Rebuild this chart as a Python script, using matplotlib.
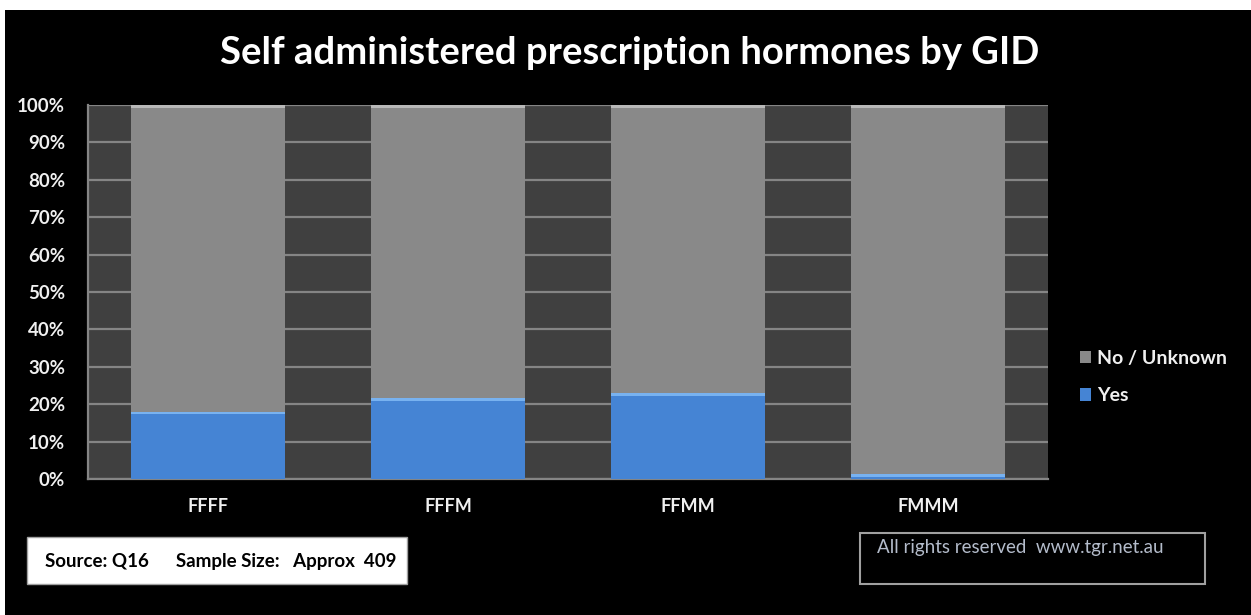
import matplotlib
matplotlib.use("Agg")
import matplotlib.pyplot as plt
from matplotlib.patches import Rectangle, Patch
import numpy as np

categories = ["FFFF", "FFFM", "FFMM", "FMMM"]
yes_pct = [18.0, 21.6, 22.9, 1.3]
no_unknown_pct = [82.0, 78.4, 77.1, 98.7]
y_ticks = [0, 10, 20, 30, 40, 50, 60, 70, 80, 90, 100]
y_tick_labels = [f"{t}%" for t in y_ticks]

W, H = 1251, 615
fig = plt.figure(figsize=(W / 100, H / 100), dpi=100, facecolor="white")
fig.patches.append(Rectangle((5 / W, 0), 1, (H - 10) / H, transform=fig.transFigure,
                             facecolor="black", edgecolor="none", zorder=-10))

ax = fig.add_axes([88 / W, 136 / H, 960 / W, 374 / H])
ax.set_facecolor("#404040")

x = np.arange(len(categories))
bw = 0.64
blue = "#4584d4"
gray = "#898989"
ax.bar(x, yes_pct, bw, color=blue, edgecolor="none", zorder=3)
ax.bar(x, no_unknown_pct, bw, bottom=yes_pct, color=gray, edgecolor="none", zorder=3)
# subtle bevel highlight at top of each segment
ax.bar(x, [0.7] * 4, bw, bottom=np.array(yes_pct) - 0.7, color="#78b2f0", edgecolor="none", zorder=4)
ax.bar(x, [0.7] * 4, bw, bottom=np.array(yes_pct) + np.array(no_unknown_pct) - 0.7,
       color="#b8b8b8", edgecolor="none", zorder=4)

ax.set_xlim(-0.5, len(categories) - 0.5)
ax.set_ylim(0, 100)
ax.set_yticks(y_ticks)
ax.set_yticklabels(y_tick_labels)
ax.set_xticks(x)
ax.set_xticklabels(categories)
ax.yaxis.grid(True, color="#858585", linewidth=1.6, zorder=1)
ax.set_axisbelow(True)
for s in ["top", "right"]:
    ax.spines[s].set_visible(False)
for s in ["left", "bottom"]:
    ax.spines[s].set_color("#858585")
    ax.spines[s].set_linewidth(1.6)
ax.tick_params(axis="both", length=0, colors="white")
for lab in ax.get_yticklabels():
    lab.set_fontfamily("Lato")
    lab.set_fontweight("bold")
    lab.set_fontsize(13.5)
    lab.set_color("#f0f0f0")
ax.tick_params(axis="y", pad=16.5)
for lab in ax.get_xticklabels():
    lab.set_fontfamily("Lato")
    lab.set_fontweight("bold")
    lab.set_fontsize(13)
    lab.set_color("#f0f0f0")
ax.tick_params(axis="x", pad=14)

fig.text(630 / W, 1 - 53 / H, "Self administered prescription hormones by GID",
         ha="center", va="center", color="white", fontsize=27.5, fontweight="bold",
         family="Lato")

handles = [Patch(facecolor=gray, edgecolor="none"), Patch(facecolor=blue, edgecolor="none")]
leg = fig.legend(handles, ["No / Unknown", "Yes"], loc="center left",
                 bbox_to_anchor=(1062 / W, 1 - 377 / H), frameon=False,
                 handlelength=0.6, handleheight=0.6, handletextpad=0.3,
                 labelspacing=1.05, prop={"family": "Lato", "weight": "bold", "size": 14})
for t in leg.get_texts():
    t.set_color("#f0f0f0")

# source box
fig.patches.append(Rectangle((27 / W, 1 - 584 / H), 380 / W, 47 / H, transform=fig.transFigure,
                             facecolor="white", edgecolor="#a0a0a0", linewidth=1))
fig.text(45 / W, 1 - 561 / H, "Source: Q16      Sample Size:   Approx  409",
         ha="left", va="center", color="black", fontsize=13.5, fontweight="bold", family="Lato")

# rights box
fig.patches.append(Rectangle((860 / W, 1 - 584 / H), 345 / W, 51 / H, transform=fig.transFigure,
                             facecolor="none", edgecolor="#a0a0a0", linewidth=1.5))
fig.text(877 / W, 1 - 547 / H, "All rights reserved  www.tgr.net.au",
         ha="left", va="center", color="#b4bccb", fontsize=13.5, family="Lato")

fig.savefig("out.png", dpi=100, facecolor="white")
